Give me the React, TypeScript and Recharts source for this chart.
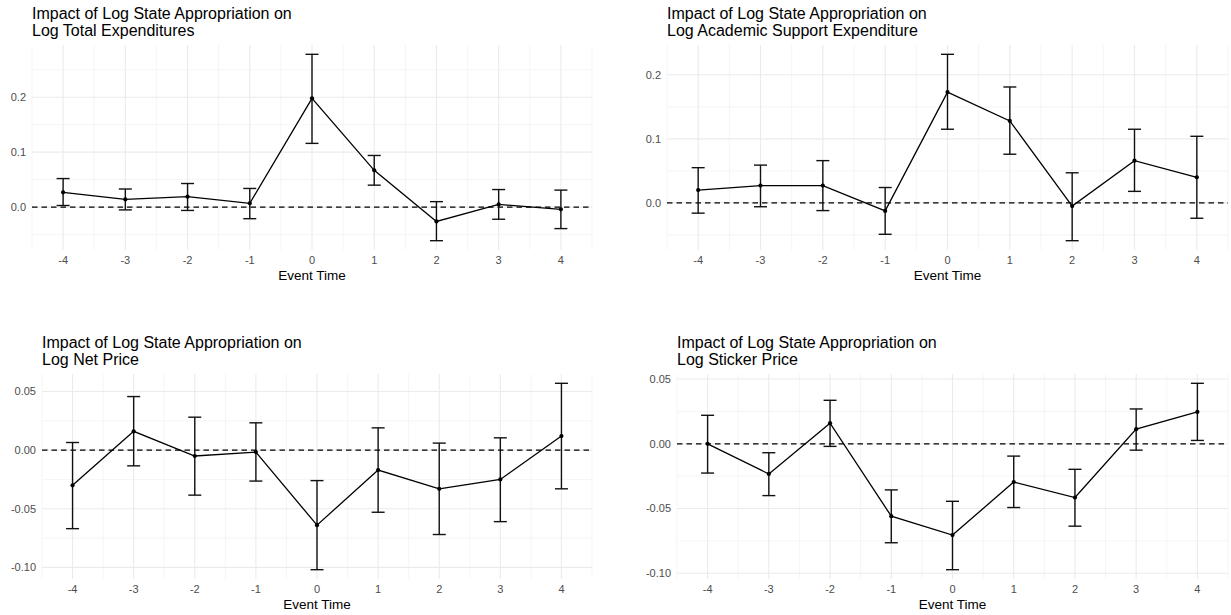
import { ComposedChart, ErrorBar, Line, ReferenceLine, XAxis, YAxis } from "recharts";

// event time on the x axis, shared by all four panels
const eventTime = [-4, -3, -2, -1, 0, 1, 2, 3, 4];
const xMinor = [-4.5, -3.5, -2.5, -1.5, -0.5, 0.5, 1.5, 2.5, 3.5, 4.5];

// Log Total Expenditures
const totalEst = [0.027, 0.014, 0.019, 0.007, 0.198, 0.067, -0.026, 0.005, -0.004];
const totalLo = [0.003, -0.005, -0.006, -0.021, 0.116, 0.04, -0.061, -0.022, -0.039];
const totalHi = [0.052, 0.033, 0.043, 0.034, 0.278, 0.094, 0.01, 0.032, 0.031];

// Log Academic Support Expenditure
const academicEst = [0.02, 0.027, 0.027, -0.0125, 0.173, 0.128, -0.005, 0.066, 0.04];
const academicLo = [-0.016, -0.006, -0.012, -0.049, 0.115, 0.076, -0.059, 0.018, -0.024];
const academicHi = [0.055, 0.059, 0.066, 0.024, 0.232, 0.181, 0.047, 0.115, 0.104];

// Log Net Price
const netEst = [-0.03, 0.016, -0.005, -0.0017, -0.064, -0.017, -0.033, -0.025, 0.012];
const netLo = [-0.067, -0.0134, -0.0384, -0.0264, -0.102, -0.053, -0.072, -0.061, -0.033];
const netHi = [0.0065, 0.0457, 0.0281, 0.0233, -0.026, 0.019, 0.006, 0.0105, 0.057];

// Log Sticker Price
const stickerEst = [0.0, -0.0233, 0.0159, -0.0559, -0.0705, -0.0295, -0.0415, 0.0113, 0.0246];
const stickerLo = [-0.0226, -0.04, -0.002, -0.0764, -0.0972, -0.0492, -0.0636, -0.0049, 0.0026];
const stickerHi = [0.022, -0.0069, 0.0336, -0.0356, -0.0444, -0.0095, -0.0197, 0.0269, 0.0467];

// y ticks
const expTicks = [0, 0.1, 0.2];
const totalMinor = [-0.05, 0.05, 0.15, 0.25];
const academicMinor = [-0.05, 0.05, 0.15];
const priceTicks = [-0.1, -0.05, 0, 0.05];
const priceMinor = [-0.075, -0.025, 0.025];

const FONT = '"Liberation Sans", Arial, Helvetica, sans-serif';

type PanelProps = {
  title: string[];
  est: number[];
  lo: number[];
  hi: number[];
  yTicks: number[];
  yMinor: number[];
  digits: number;
  left: number;
  top: number;
  width: number;
  height: number;
  margin: { top: number; right: number; bottom: number; left: number };
  yWidth: number;
};

const Panel = ({
  title,
  est,
  lo,
  hi,
  yTicks,
  yMinor,
  digits,
  left,
  top,
  width,
  height,
  margin,
  yWidth,
}: PanelProps) => {
  const data = eventTime.map((t, i) => ({
    t,
    est: est[i],
    err: [est[i] - lo[i], hi[i] - est[i]],
  }));
  const min = Math.min(...lo);
  const max = Math.max(...hi);
  const pad = (max - min) * 0.05;

  return (
    <div style={{ position: "absolute", left, top, width, height }}>
      <ComposedChart width={width} height={height} data={data} margin={margin}>
        {xMinor.map((v) => (
          <ReferenceLine key={`xm${v}`} x={v} stroke="#F0F0F0" strokeWidth={0.7} />
        ))}
        {yMinor.map((v) => (
          <ReferenceLine key={`ym${v}`} y={v} stroke="#F0F0F0" strokeWidth={0.7} />
        ))}
        {eventTime.map((v) => (
          <ReferenceLine key={`xM${v}`} x={v} stroke="#EBEBEB" strokeWidth={1.1} />
        ))}
        {yTicks.map((v) => (
          <ReferenceLine key={`yM${v}`} y={v} stroke="#EBEBEB" strokeWidth={1.1} />
        ))}
        <XAxis
          type="number"
          dataKey="t"
          domain={[-4.5, 4.5]}
          ticks={eventTime}
          interval={0}
          allowDataOverflow
          axisLine={false}
          tickLine={false}
          tickSize={4}
          tickMargin={2}
          height={36}
          tick={{ fill: "#4D4D4D", fontSize: 11, fontFamily: FONT }}
          label={{
            value: "Event Time",
            position: "insideBottom",
            offset: 6.5,
            fill: "#000",
            fontSize: 13.5,
            fontFamily: FONT,
          }}
        />
        <YAxis
          type="number"
          domain={[min - pad, max + pad]}
          ticks={yTicks}
          interval={0}
          allowDataOverflow
          tickFormatter={(v: number) => v.toFixed(digits)}
          width={yWidth}
          axisLine={false}
          tickLine={false}
          tickSize={4}
          tickMargin={2}
          tick={{ fill: "#4D4D4D", fontSize: 11, fontFamily: FONT }}
        />
        <ReferenceLine y={0} stroke="#000" strokeWidth={1.3} strokeDasharray="5.5 4" />
        <Line
          dataKey="est"
          stroke="#000"
          strokeWidth={1.3}
          dot={{ r: 2.1, fill: "#000", stroke: "#000", strokeWidth: 0 }}
          activeDot={false}
          isAnimationActive={false}
        >
          <ErrorBar dataKey="err" direction="y" width={6.5} stroke="#111" strokeWidth={1.4} />
        </Line>
      </ComposedChart>
      <div
        style={{
          position: "absolute",
          left: margin.left + yWidth,
          top: margin.top - 40.5,
          fontFamily: FONT,
          fontSize: 16,
          lineHeight: "17px",
          color: "#000",
          whiteSpace: "nowrap",
        }}
      >
        {title[0]}
        <br />
        {title[1]}
      </div>
    </div>
  );
};

export default function App() {
  return (
    <div
      style={{
        position: "absolute",
        left: 0,
        top: 0,
        width: 1231,
        height: 615,
        background: "#fff",
        fontFamily: FONT,
      }}
    >
      <Panel
        title={["Impact of Log State Appropriation on", "Log Total Expenditures"]}
        est={totalEst}
        lo={totalLo}
        hi={totalHi}
        yTicks={expTicks}
        yMinor={totalMinor}
        digits={1}
        left={0}
        top={0}
        width={615}
        height={290}
        margin={{ top: 45, right: 23, bottom: 4, left: 2 }}
        yWidth={30}
      />
      <Panel
        title={["Impact of Log State Appropriation on", "Log Academic Support Expenditure"]}
        est={academicEst}
        lo={academicLo}
        hi={academicHi}
        yTicks={expTicks}
        yMinor={academicMinor}
        digits={1}
        left={615}
        top={0}
        width={616}
        height={290}
        margin={{ top: 45, right: 3, bottom: 4, left: 22 }}
        yWidth={30}
      />
      <Panel
        title={["Impact of Log State Appropriation on", "Log Net Price"]}
        est={netEst}
        lo={netLo}
        hi={netHi}
        yTicks={priceTicks}
        yMinor={priceMinor}
        digits={2}
        left={0}
        top={320}
        width={615}
        height={295}
        margin={{ top: 54, right: 23, bottom: 0, left: 6 }}
        yWidth={36}
      />
      <Panel
        title={["Impact of Log State Appropriation on", "Log Sticker Price"]}
        est={stickerEst}
        lo={stickerLo}
        hi={stickerHi}
        yTicks={priceTicks}
        yMinor={priceMinor}
        digits={2}
        left={615}
        top={320}
        width={616}
        height={295}
        margin={{ top: 54, right: 3, bottom: 0, left: 26 }}
        yWidth={36}
      />
    </div>
  );
}
